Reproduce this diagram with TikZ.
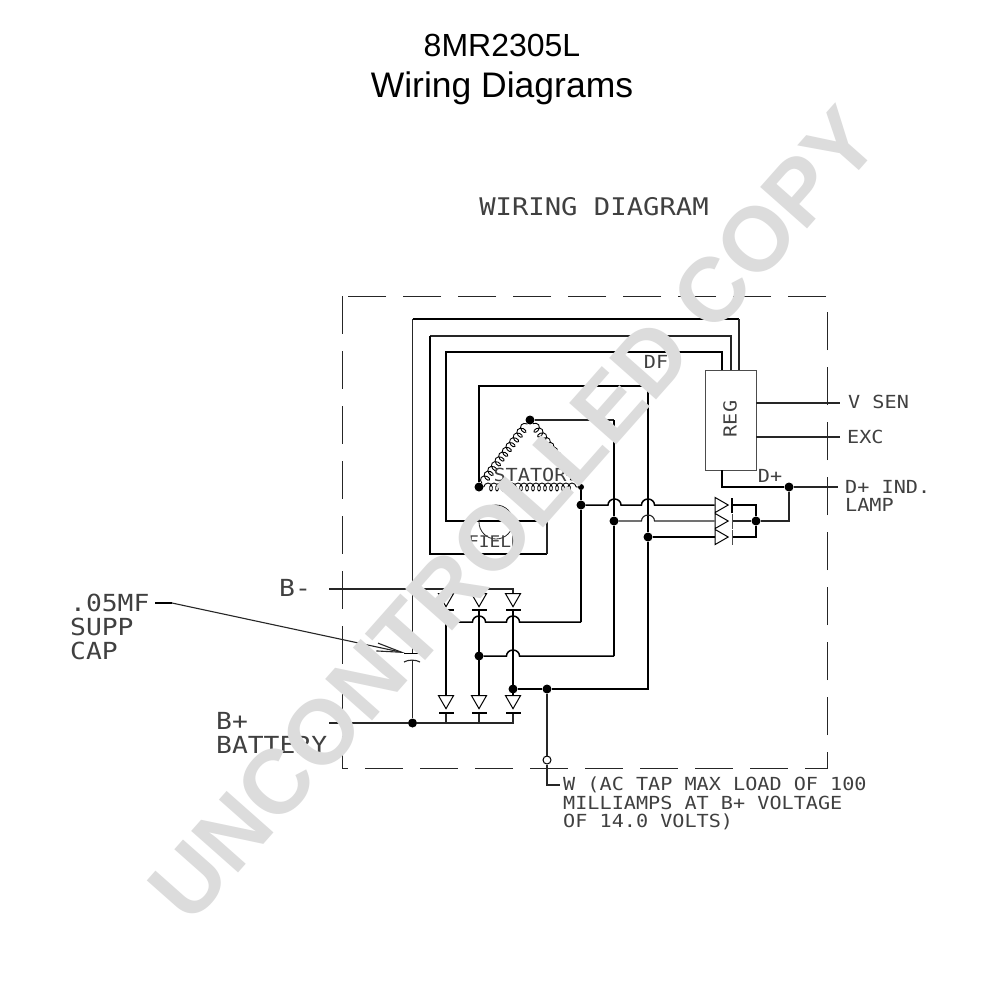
\documentclass[tikz,border=0pt]{standalone}
\usepackage{fontspec}
\usepackage{xcolor}
\usetikzlibrary{arrows.meta, shapes.geometric, decorations.pathmorphing}
\setmainfont{Liberation Sans}
\newfontfamily\plotfont[FakeStretch=1.12]{DejaVu Sans Mono}
\definecolor{markgray}{HTML}{DCDCDC}
\tikzset{
	wire/.style={line width=1.5pt, black},
	thinwire/.style={line width=1.1pt, black!85},
	coilwire/.style={line width=0.9pt, black, decorate, decoration={coil, aspect=0.7, segment length=6pt, amplitude=4pt}},
	dot/.style={circle, fill=black, minimum size=9pt},
	diode/.style={draw=black, line width=1pt, isosceles triangle, isosceles triangle apex angle=58, isosceles triangle stretches, minimum height=13pt, minimum width=15pt},
	platebar/.style={fill=black, minimum width=15pt, minimum height=1.6pt},
	smalltxt/.style={font=\plotfont\fontsize{18}{18}\selectfont, text=black!75},
	bigtxt/.style={font=\plotfont\fontsize{23.5}{23.5}\selectfont, text=black!75},
	titletxt/.style={font=\fontsize{35.5}{35.5}\selectfont, text=black}
}
\begin{document}
\begin{tikzpicture}[x=1pt, y=1pt]
	\tikzstyle{every node}+=[inner sep=0pt]
	\useasboundingbox (0,0) rectangle (1000,-1000);
	\fill [white] (0,0) rectangle (1000,-1000);
	\node [titletxt, font=\fontsize{32}{32}\selectfont] (title1) at (502,-45) {8MR2305L};
	\node [titletxt] (title2) at (502,-88) {Wiring Diagrams};
	\node [font=\plotfont\fontsize{24.3}{24.3}\selectfont, text=black!75] (wdtitle) at (594,-207) {WIRING DIAGRAM};
	\draw [line width=1pt, black!85, dash pattern=on 38pt off 17pt] (342,-296) rectangle (827,-768);
	% regulator
	\node [draw=black!70, line width=1pt, minimum width=51pt, minimum height=100pt] (reg) at (730.5,-420) {};
	\node [smalltxt, rotate=90] (regtxt) at (730,-419) {REG};
	\coordinate (rega) at (739,-370);
	\coordinate (regb) at (731,-370);
	\coordinate (regc) at (722,-370);
	\coordinate (regd) at (722,-470);
	\coordinate (rege) at (722,-487);
	\coordinate (vs0) at (756,-403);
	\coordinate (vs1) at (840,-403);
	\coordinate (ex0) at (756,-437);
	\coordinate (ex1) at (840,-437);
	\coordinate (dp1) at (838,-487);
	\node [dot] (jdp) at (789,-487) {};
	\node [dot] (jm) at (756,-521) {};
	\draw [thinwire] (vs0) -- (vs1);
	\draw [thinwire] (ex0) -- (ex1);
	\draw [wire] (regd) -- (rege) -- (jdp);
	\draw [thinwire] (jdp) -- (dp1);
	\draw [thinwire] (jdp) |- (jm);
	\node [smalltxt, anchor=west] (vsen) at (848,-402) {V SEN};
	\node [smalltxt, anchor=west] (exc) at (847,-437) {EXC};
	\node [smalltxt, anchor=west] (dpl) at (845,-487) {D+ IND.};
	\node [smalltxt, anchor=west] (lamp) at (845,-505) {LAMP};
	\node [smalltxt] (dpt) at (770,-476) {D+};
	\node [smalltxt] (dft) at (656,-362) {DF};
	% field wires
	\coordinate (ta) at (412.5,-319);
	\coordinate (tb) at (430,-336);
	\coordinate (tc) at (446,-352);
	\coordinate (fb) at (547,-554);
	\coordinate (fc) at (547,-521);
	\coordinate (capup) at (412.5,-653);
	\coordinate (capdn) at (412.5,-660);
	\node [dot] (jbat) at (412.5,-723) {};
	\draw [wire] (ta) -- (rega |- ta);
	\draw [thinwire] (capup) -- (ta);
	\draw [thinwire] (rega |- ta) -- (rega);
	\draw [thinwire] (regb) |- (tb);
	\draw [wire] (tb) |- (fb);
	\draw [thinwire] (fb) -- (fc);
	\draw [wire] (regc) |- (tc) |- (fc);
	\draw [thinwire, line width=0.8pt] (496,-522) circle (17);
	\node [smalltxt, font=\plotfont\fontsize{16}{16}\selectfont] (fieldtxt) at (495,-542) {FIELD};
	% stator
	\node [dot] (sl) at (479,-487) {};
	\node [dot] (st) at (530,-420) {};
	\node [dot, minimum size=6pt] (sr) at (581,-487) {};
	\draw [coilwire] (sl) -- (st);
	\draw [coilwire] (st) -- (sr);
	\draw [coilwire] (sl) -- (sr);
	\node [smalltxt] (statortxt) at (530,-475) {STATOR};
	\coordinate (t4) at (479,-386);
	\coordinate (t5) at (614,-420);
	\node [dot] (j1) at (581,-505) {};
	\node [dot] (j2) at (614,-521) {};
	\node [dot] (j3) at (648,-537) {};
	\node [dot] (j4) at (479,-656) {};
	\node [dot] (j5) at (513,-689) {};
	\node [dot] (j6) at (547,-689) {};
	\coordinate (k1) at (581,-622);
	\coordinate (k2) at (614,-656);
	\coordinate (k3) at (648,-689);
	\coordinate (k4) at (446,-622);
	\draw [wire] (sl) -- (t4) -| (j3);
	\draw [wire] (j3) -- (k3) -- (j6) -- (j5);
	\draw [thinwire] (st) -- (t5);
	\draw [wire] (t5) -- (j2) -- (k2);
	\draw [wire] (sr) -- (j1) -- (k1);
	% rectifier, right side
	\node [diode] (dr1) at (719.5,-505) {};
	\node [diode] (dr2) at (719.5,-521) {};
	\node [diode] (dr3) at (719.5,-537) {};
	\node [platebar, rotate=90] (br1) at (732,-505) {};
	\node [platebar, rotate=90, fill=black!70, minimum height=1pt] (br2) at (732,-521) {};
	\node [platebar, rotate=90, fill=black!70, minimum height=1pt] (br3) at (732,-537) {};
	\draw [wire] (j1) -- (608,-505) arc (180:0:6.5 and 6) -- (641.5,-505) arc (180:0:6.5 and 6) -- (dr1.lower side);
	\draw [thinwire] (j2) -- (641.5,-521) arc (180:0:6.5 and 6) -- (dr2.lower side);
	\draw [wire] (j3) -- (dr3.lower side);
	\draw [wire] (br1) -| (jm);
	\draw [wire] (br3) -| (jm);
	\draw [thinwire] (br2) -- (jm);
	% rectifier, lower side
	\coordinate (bm) at (329,-589);
	\coordinate (bp) at (329,-723);
	\coordinate (bm1) at (446,-589);
	\coordinate (bm2) at (479,-589);
	\coordinate (bm3) at (513,-589);
	\coordinate (bp1) at (446,-723);
	\coordinate (bp2) at (479,-723);
	\coordinate (bp3) at (513,-723);
	\node [diode, shape border rotate=270] (du1) at (446,-598) {};
	\node [diode, shape border rotate=270] (du2) at (479,-598) {};
	\node [diode, shape border rotate=270] (du3) at (513,-598) {};
	\node [platebar] (bu1) at (446,-610) {};
	\node [platebar] (bu2) at (479,-610) {};
	\node [platebar] (bu3) at (513,-610) {};
	\node [diode, shape border rotate=270] (dl1) at (446,-700) {};
	\node [diode, shape border rotate=270] (dl2) at (479,-700) {};
	\node [diode, shape border rotate=270] (dl3) at (513,-700) {};
	\node [platebar] (bl1) at (446,-713) {};
	\node [platebar] (bl2) at (479,-713) {};
	\node [platebar] (bl3) at (513,-713) {};
	\draw [thinwire] (bm) -- (bm3) -- (du3.lower side);
	\draw [thinwire] (bm1) -- (du1.lower side);
	\draw [thinwire] (bm2) -- (du2.lower side);
	\draw [thinwire] (bp) -- (jbat) -- (bp3) -- (bl3);
	\draw [thinwire] (bp1) -- (bl1);
	\draw [thinwire] (bp2) -- (bl2);
	\draw [wire] (bu1) -- (dl1.lower side);
	\draw [wire] (bu2) -- (dl2.lower side);
	\draw [wire] (bu3) -- (dl3.lower side);
	\draw [wire] (k1) -- (519.5,-622) arc (0:180:6.5 and 6) -- (485.5,-622) arc (0:180:6.5 and 6) -- (k4);
	\draw [wire] (k2) -- (519.5,-656) arc (0:180:6.5 and 6) -- (j4);
	% capacitor and its leader
	\node [platebar, minimum width=17pt, minimum height=1pt] (capa) at (412,-653) {};
	\draw [thinwire] (404,-662) .. controls (408,-659.5) and (416,-659.5) .. (420,-662);
	\draw [thinwire] (capdn) -- (jbat);
	\coordinate (ldr0) at (155,-603);
	\coordinate (ldr1) at (172,-603);
	\coordinate (ldr2) at (405,-653);
	\draw [wire] (ldr0) -- (ldr1);
	\draw [thinwire, -{Straight Barb[length=25pt, width=8pt]}] (ldr1) -- (ldr2);
	\node [bigtxt, anchor=west] (capt1) at (70,-603) {.05MF};
	\node [bigtxt, anchor=west] (capt2) at (70,-627) {SUPP};
	\node [bigtxt, anchor=west] (capt3) at (70,-651) {CAP};
	\node [bigtxt, anchor=west] (bmt) at (279,-588) {B-};
	\node [bigtxt, anchor=west] (bpt) at (216,-721) {B+};
	\node [bigtxt, anchor=west] (batt) at (216,-745) {BATTERY};
	% W tap
	\node [draw=black, line width=1pt, circle, minimum size=8pt] (wtap) at (547,-760) {};
	\coordinate (wc) at (547,-785);
	\coordinate (we) at (560,-785);
	\draw [thinwire] (j6) -- (wtap);
	\draw [thinwire] (wtap) -- (wc) -- (we);
	\node [smalltxt, anchor=west] (wt1) at (563,-785) {W (AC TAP MAX LOAD OF 100};
	\node [smalltxt, anchor=west] (wt2) at (563,-803) {MILLIAMPS AT B+ VOLTAGE};
	\node [smalltxt, anchor=west] (wt3) at (563,-822) {OF 14.0 VOLTS)};
	% watermark
	\node [font=\bfseries\fontsize{91}{91}\selectfont, text=markgray, rotate=48.5] (stamp) at (514,-514) {UNCONTROLLED COPY};
\end{tikzpicture}
\end{document}
